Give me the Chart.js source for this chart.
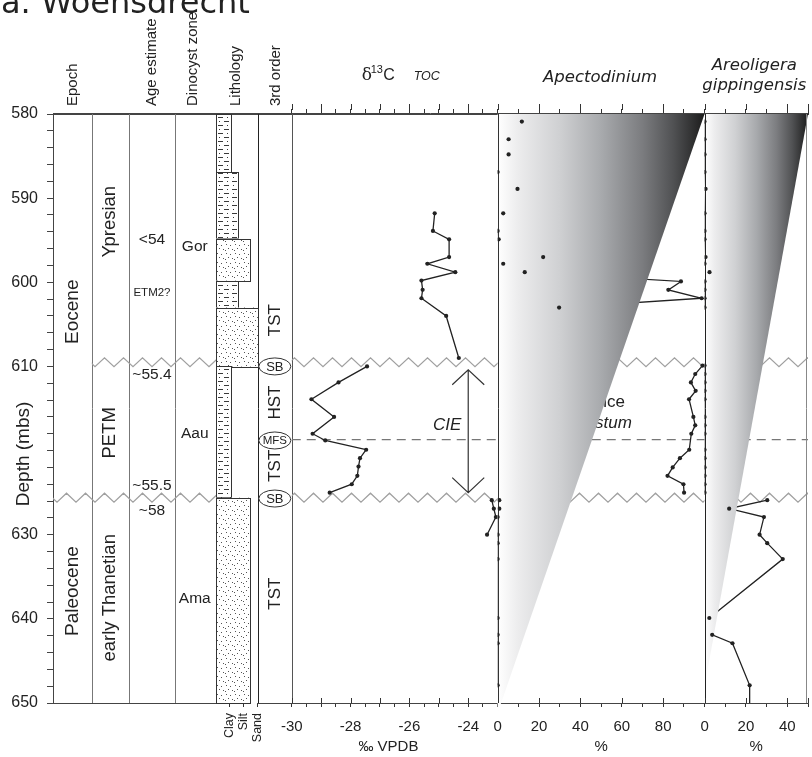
<!DOCTYPE html>
<html>
<head>
<meta charset="utf-8">
<title>Woensdrecht</title>
<script src="https://cdn.jsdelivr.net/npm/chart.js@4.4.1/dist/chart.umd.min.js"></script>
<style>
  html, body { margin: 0; padding: 0; background: #fff; }
  canvas { display: block; }
</style>
</head>
<body>
<canvas id="log" width="812" height="757"></canvas>
<script>
var SANS = '"Liberation Sans", Arial, sans-serif';
var WIDE = '"DejaVu Sans", Verdana, sans-serif';
var INK = '#222';

/* axis ticks */
var depthTicks = [580, 582, 584, 586, 588, 590, 592, 594, 596, 598, 600, 602, 604, 606, 608, 610,
    612, 614, 616, 618, 620, 622, 624, 626, 628, 630, 632, 634, 636, 638, 640, 642, 644, 646, 648, 650];
var depthLabels = [580, 590, 600, 610, 630, 640, 650];
var d13cTicks = [-30, -29.5, -29, -28.5, -28, -27.5, -27, -26.5, -26, -25.5, -25, -24.5, -24, -23.5, -23];
var d13cMajor = [-30, -29, -28, -27, -26, -25, -24, -23];
var d13cLabels = [-30, -28, -26, -24];
var apectTicks = [0, 10, 20, 30, 40, 50, 60, 70, 80, 90, 100];
var apectMajor = [0, 20, 40, 60, 80, 100];
var apectLabels = [0, 20, 40, 60, 80];
var areoTicks = [0, 10, 20, 30, 40, 50];
var areoMajor = [0, 20, 40, 50];
var areoLabels = [0, 20, 40];
var grainTicks = [0.95, 1.95, 3];
var grainNames = ['Clay', 'Silt', 'Sand'];

/* d13C TOC (permil VPDB), split at the two unconformities */
var d13cDepthA = [591.8, 593.9, 594.9, 597.0, 597.8, 598.8, 599.8, 600.9, 601.9, 604.0, 609.0];
var d13cValueA = [-25.14, -25.20, -24.65, -24.65, -25.39, -24.44, -25.59, -25.55, -25.59, -24.75, -24.32];
var d13cDepthB = [610.0, 611.9, 613.9, 616.0, 618.0, 618.8, 619.9, 620.9, 621.9, 623.0, 624.0, 625.0];
var d13cValueB = [-27.44, -28.41, -29.33, -28.56, -29.29, -28.86, -27.47, -27.68, -27.73, -27.77, -27.96, -28.71];
var d13cDepthC = [625.9, 626.9, 627.9, 630.0];
var d13cValueC = [-23.20, -23.13, -23.06, -23.36];

/* palynology samples (%) */
var sampleDepthA = [580.9, 583.0, 584.8, 586.9, 588.9, 591.8, 593.9, 594.9, 597.0, 597.8, 598.8, 599.9, 600.9, 601.9, 603.0];
var sampleDepthB = [609.9, 610.9, 611.9, 612.9, 613.9, 616.0, 617.0, 618.0, 619.9, 620.9, 622.0, 623.0, 624.0, 625.0];
var sampleDepthC = [625.9, 626.9, 627.9, 630.0, 631.0, 632.9, 639.9, 641.9, 642.9, 647.9, 651.0];
var apectA = [11.7, 5.3, 5.3, 0, 9.6, 2.7, 0, 0.5, 22.0, 2.7, 13.1, 88.6, 82.5, 98.6, 29.7];
var apectB = [99.0, 95.5, 93.4, 95.7, 92.5, 94.6, 95.5, 93.6, 92.6, 88.1, 84.6, 82.1, 89.8, 90.1];
var apectC = [0.8, 0.8, 0, 0, 0, 0, 0, 0, 0, 0, null];
var areoA = [0, 0, 0, 0, 0.5, 0, 0, 0, 0.5, 0, 2.4, 0, 0, 0, 0];
var areoB = [0, 0, 0, 0, 0, 0, 0, 0, 0, 0, 0, 0, 0, 0];
var areoC = [30.3, 11.9, 28.7, 26.6, 30.3, 37.8, 2.3, 3.7, 13.5, 21.8, 21.8];

/* lithology units */
var lithTop = [580, 586.9, 594.8, 599.8, 603.0, 610.0, 625.6];
var lithBase = [586.9, 594.8, 599.8, 603.0, 610.0, 625.6, 650];
var lithGrain = [1.07, 1.6, 2.43, 1.55, 3.0, 1.1, 2.43];
var lithKind = ['mud', 'mud', 'sand', 'mud', 'sand', 'mud', 'sand'];

/* column annotations */
var epochNames = ['Eocene', 'Paleocene'];
var epochMid = [603.5, 636.7];
var stageNames = ['Ypresian', 'PETM', 'early Thanetian'];
var stageMid = [592.8, 617.9, 637.5];
var ageNames = ['<54', 'ETM2?', '~55.4', '~55.5', '~58'];
var ageMid = [595.0, 601.2, 611.0, 624.2, 627.1];
var zoneNames = ['Gor', 'Aau', 'Ama'];
var zoneMid = [595.8, 618.0, 637.6];
var seqNames = ['TST', 'SB', 'HST', 'MFS', 'TST', 'SB', 'TST'];
var seqMid = [604.5, 610.0, 614.3, 618.8, 621.8, 625.7, 637.0];

var unconformityDepth = [609.5, 625.6];
var mfsDepth = 618.7;
var cieValue = -24.0, cieTop = 610.4, cieBase = 625.0;
var apectWedge = { full: 100, top: 580, tip: 651.2 };
var areoWedge = { full: 50, top: 580, tip: 648 };
var shadeStops = [[0, '#ffffff'], [0.1, '#ececed'], [0.3, '#cfd0d2'], [0.5, '#a8aaad'],
    [0.7, '#7b7c7f'], [0.85, '#505153'], [1, '#1c1c1c']];

function pts(vals, depths) {
    var out = [];
    for (var i = 0; i < depths.length; i++) {
        if (vals[i] !== null) out.push({ x: vals[i], y: depths[i] });
    }
    return out;
}

function axisBase(pos, weight) {
    return {
        type: 'linear', axis: 'x', position: pos, stack: pos, stackWeight: weight,
        min: 0, max: 1,
        ticks: { display: false },
        grid: { display: false },
        border: { color: '#444', width: 1 },
        afterFit: function (s) {
            s.height = pos === 'top' ? 114 : 54;
            s.paddingLeft = 0; s.paddingRight = 0;
        }
    };
}

function panelAxis(pos, weight, min, max, ticks, labels, title) {
    var o = axisBase(pos, weight);
    o.min = min; o.max = max;
    o.afterBuildTicks = function (s) {
        s.ticks = ticks.map(function (v) { return { value: v }; });
    };
    o.grid = { display: true, drawOnChartArea: false, drawTicks: true,
        tickLength: pos === 'top' ? 5 : 4, color: '#333' };
    if (pos === 'bottom') {
        o.ticks = { display: true, autoSkip: false, maxRotation: 0, minRotation: 0, padding: 11,
            color: INK, font: { family: SANS, size: 15 },
            callback: function (v) { return labels.indexOf(v) >= 0 ? String(v) : ''; } };
        if (title) {
            o.title = { display: true, text: title, color: INK,
                font: { family: SANS, size: 15 }, padding: { top: 0, bottom: 1 } };
        }
    } else {
        o.ticks = { display: false };
    }
    return o;
}

var lithAxis = panelAxis('bottom', 42, 0, 3, grainTicks, grainTicks, null);
lithAxis.ticks = { display: true, autoSkip: false, maxRotation: 90, minRotation: 90, padding: 6,
    color: INK, font: { family: SANS, size: 12.5 },
    callback: function (v) { var i = grainTicks.indexOf(v); return i >= 0 ? grainNames[i] : ''; } };
lithAxis.border = { display: false };

// top axes are laid out right-to-left by Chart.js, so they are listed in reverse
var scales = {
    y: {
        type: 'linear', position: 'left', reverse: true, min: 580, max: 650,
        afterBuildTicks: function (s) {
            s.ticks = depthTicks.map(function (v) { return { value: v }; });
        },
        afterFit: function (s) { s.width = 53; s.paddingTop = 0; s.paddingBottom = 0; },
        ticks: { autoSkip: false, padding: 9, color: INK, font: { family: SANS, size: 16 },
            callback: function (v) { return depthLabels.indexOf(v) >= 0 ? String(v) : ''; } },
        grid: { drawOnChartArea: false, tickLength: 6, color: '#444' },
        border: { color: '#444' }
    },
    tG: panelAxis('top', 104, 0, 50, areoTicks, [], null),
    tA: panelAxis('top', 208, 0, 100, apectTicks, [], null),
    tC: panelAxis('top', 207, -30, -23, d13cTicks, [], null),
    tCols: axisBase('top', 240),
    cEpoch: axisBase('bottom', 39),
    cStage: axisBase('bottom', 37),
    cAge: axisBase('bottom', 47),
    cZone: axisBase('bottom', 41),
    xL: lithAxis,
    cSeq: axisBase('bottom', 34),
    xC: panelAxis('bottom', 207, -30, -23, d13cTicks, d13cLabels, '\u2030 VPDB\u00a0\u00a0\u00a0'),
    xA: panelAxis('bottom', 208, 0, 100, apectTicks, apectLabels, '%'),
    xG: panelAxis('bottom', 104, 0, 50, areoTicks, areoLabels, '%')
};

function lineSet(data, axis, order) {
    return { data: data, xAxisID: axis, yAxisID: 'y', order: order,
        borderColor: INK, borderWidth: 1.3, pointRadius: 0, clip: 0 };
}
function pointSet(data, axis) {
    return { data: data, xAxisID: axis, yAxisID: 'y', order: 0, onTop: true, showLine: false,
        pointRadius: 2.1, pointBackgroundColor: INK, pointBorderWidth: 0, clip: 0 };
}
function d13cSet(data) {
    return { data: data, xAxisID: 'xC', yAxisID: 'y', order: 1,
        borderColor: INK, borderWidth: 1.3, pointRadius: 2.1,
        pointBackgroundColor: INK, pointBorderWidth: 0, clip: 0 };
}

var datasets = [
    d13cSet(pts(d13cValueA, d13cDepthA)),
    d13cSet(pts(d13cValueB, d13cDepthB)),
    d13cSet(pts(d13cValueC, d13cDepthC)),
    lineSet(pts(apectA, sampleDepthA), 'xA', 2),
    lineSet(pts(apectB, sampleDepthB), 'xA', 2),
    lineSet(pts(apectC, sampleDepthC), 'xA', 2),
    lineSet(pts(areoA, sampleDepthA), 'xG', 2),
    lineSet(pts(areoB, sampleDepthB), 'xG', 2),
    lineSet(pts(areoC, sampleDepthC), 'xG', 2),
    pointSet(pts(apectA, sampleDepthA).concat(pts(apectB, sampleDepthB), pts(apectC, sampleDepthC)), 'xA'),
    pointSet(pts(areoA, sampleDepthA).concat(pts(areoB, sampleDepthB), pts(areoC, sampleDepthC)), 'xG')
];

var wedgeDone = false;
var patterns = null;

function makePatterns(ctx) {
    // claystone/siltstone: short dashes from both edges with dots between
    var mud = document.createElement('canvas');
    mud.width = 14; mud.height = 8;
    var g = mud.getContext('2d');
    g.fillStyle = '#fff'; g.fillRect(0, 0, 14, 8);
    g.fillStyle = '#3a3a3a';
    g.fillRect(0, 1, 5, 1);
    g.fillRect(8, 5, 5, 1);
    g.fillRect(9, 1, 1, 1);
    g.fillRect(3, 5, 1, 1);
    // sandstone: fine scattered dots
    var sand = document.createElement('canvas');
    sand.width = 9; sand.height = 9;
    g = sand.getContext('2d');
    g.fillStyle = '#fff'; g.fillRect(0, 0, 9, 9);
    g.fillStyle = '#555';
    [[1, 1], [5, 2], [3, 5], [7, 6], [0, 7]].forEach(function (p) { g.fillRect(p[0], p[1], 1, 1); });
    return { mud: ctx.createPattern(mud, 'repeat'), sand: ctx.createPattern(sand, 'repeat') };
}

function zigzag(ctx, x0, x1, yc) {
    var h = 9.5, amp = 4.5;
    ctx.save();
    ctx.beginPath(); ctx.rect(x0, yc - 8, x1 - x0, 16); ctx.clip();
    ctx.beginPath();
    var k0 = Math.floor(x0 / h) - 1, k1 = Math.ceil(x1 / h) + 1;
    for (var k = k0; k <= k1; k++) {
        var py = yc + (Math.abs(k) % 2 === 0 ? amp : -amp);
        if (k === k0) ctx.moveTo(k * h, py); else ctx.lineTo(k * h, py);
    }
    ctx.stroke();
    ctx.restore();
}

function vtext(ctx, str, x, y, align) {
    ctx.save();
    ctx.translate(x, y); ctx.rotate(-Math.PI / 2);
    ctx.textAlign = align || 'center'; ctx.textBaseline = 'middle';
    ctx.fillText(str, 0, 0);
    ctx.restore();
}

function vline(ctx, x, top, bottom, color) {
    x = Math.round(x) + 0.5;
    ctx.strokeStyle = color; ctx.lineWidth = 1;
    ctx.beginPath(); ctx.moveTo(x, top); ctx.lineTo(x, bottom); ctx.stroke();
}

function mid(sc) { return (sc.left + sc.right) / 2; }

function drawWedge(chart, sx, w) {
    var ctx = chart.ctx, y = chart.scales.y;
    var x0 = sx.getPixelForValue(0), x1 = sx.getPixelForValue(w.full);
    var g = ctx.createLinearGradient(x0, 0, x1, 0);
    shadeStops.forEach(function (st) { g.addColorStop(st[0], st[1]); });
    ctx.save();
    ctx.fillStyle = g;
    ctx.beginPath();
    ctx.moveTo(x0, y.getPixelForValue(w.top));
    ctx.lineTo(x1, y.getPixelForValue(w.top));
    ctx.lineTo(x0, y.getPixelForValue(w.tip));
    ctx.closePath();
    ctx.fill();
    ctx.restore();
}

var logPlugin = {
    id: 'woensdrecht',
    beforeDatasetsDraw: function (chart) {
        wedgeDone = false;
        var ctx = chart.ctx, s = chart.scales, a = chart.chartArea, y = s.y, i;
        if (!patterns) patterns = makePatterns(ctx);
        ctx.save();
        vline(ctx, s.cStage.left, a.top, a.bottom, '#777');
        vline(ctx, s.cAge.left, a.top, a.bottom, '#777');
        vline(ctx, s.cZone.left, a.top, a.bottom, '#777');
        vline(ctx, s.cSeq.left, a.top, a.bottom, '#222');
        vline(ctx, s.xC.left, a.top, a.bottom, '#555');

        ctx.strokeStyle = '#a0a0a0'; ctx.lineWidth = 1.2;
        var u0 = y.getPixelForValue(unconformityDepth[0]);
        var u1 = y.getPixelForValue(unconformityDepth[1]);
        zigzag(ctx, s.cStage.left, s.xL.left, u0);
        zigzag(ctx, s.xC.left, a.right, u0);
        zigzag(ctx, s.cEpoch.left, s.xL.left, u1);
        zigzag(ctx, s.xC.left, a.right, u1);

        ctx.setLineDash([9, 6]); ctx.strokeStyle = '#777'; ctx.lineWidth = 1.2;
        var ym = y.getPixelForValue(mfsDepth);
        ctx.beginPath(); ctx.moveTo(s.xC.left, ym); ctx.lineTo(a.right, ym); ctx.stroke();
        ctx.setLineDash([]);

        // lithology column
        var lx0 = s.xL.getPixelForValue(0);
        for (i = 0; i < lithTop.length; i++) {
            var yt = y.getPixelForValue(lithTop[i]), yb = y.getPixelForValue(lithBase[i]);
            var xr = s.xL.getPixelForValue(lithGrain[i]);
            ctx.fillStyle = patterns[lithKind[i]];
            ctx.fillRect(lx0, yt, xr - lx0, yb - yt);
            ctx.strokeStyle = '#333'; ctx.lineWidth = 1;
            ctx.strokeRect(Math.round(lx0) + 0.5, Math.round(yt) + 0.5, Math.round(xr - lx0), Math.round(yb - yt));
        }

        ctx.fillStyle = INK;
        ctx.font = '19px ' + SANS;
        for (i = 0; i < epochNames.length; i++) vtext(ctx, epochNames[i], mid(s.cEpoch), y.getPixelForValue(epochMid[i]));
        ctx.font = '18.5px ' + SANS;
        for (i = 0; i < stageNames.length; i++) vtext(ctx, stageNames[i], mid(s.cStage), y.getPixelForValue(stageMid[i]));
        ctx.textAlign = 'center'; ctx.textBaseline = 'middle';
        for (i = 0; i < ageNames.length; i++) {
            ctx.font = (ageNames[i] === 'ETM2?' ? '11.5px ' : '15.5px ') + SANS;
            ctx.fillText(ageNames[i], mid(s.cAge), y.getPixelForValue(ageMid[i]));
        }
        ctx.font = '15.5px ' + SANS;
        for (i = 0; i < zoneNames.length; i++) ctx.fillText(zoneNames[i], mid(s.cZone) - 1, y.getPixelForValue(zoneMid[i]));

        // sequence stratigraphy
        var sx = mid(s.cSeq);
        for (i = 0; i < seqNames.length; i++) {
            var sy = y.getPixelForValue(seqMid[i]);
            if (seqNames[i] === 'SB' || seqNames[i] === 'MFS') {
                ctx.beginPath(); ctx.ellipse(sx, sy, 16, 8.5, 0, 0, Math.PI * 2);
                ctx.fillStyle = '#fff'; ctx.fill();
                ctx.strokeStyle = '#333'; ctx.lineWidth = 1; ctx.stroke();
                ctx.fillStyle = INK;
                ctx.font = (seqNames[i] === 'SB' ? '13px ' : '11.5px ') + SANS;
                ctx.textAlign = 'center'; ctx.textBaseline = 'middle';
                ctx.fillText(seqNames[i], sx, sy + 0.5);
            } else {
                ctx.fillStyle = INK;
                ctx.font = '17px ' + SANS;
                vtext(ctx, seqNames[i], sx, sy);
            }
        }

        // note partly hidden under the Apectodinium wedge
        ctx.fillStyle = INK; ctx.textAlign = 'right'; ctx.textBaseline = 'middle';
        ctx.font = '17px ' + SANS;
        ctx.fillText('Abundance', s.xA.getPixelForValue(61.5), y.getPixelForValue(614.3));
        ctx.font = 'italic 17px ' + SANS;
        ctx.fillText('A. augustum', s.xA.getPixelForValue(64.9), y.getPixelForValue(616.8));
        ctx.restore();
    },
    beforeDatasetDraw: function (chart, args) {
        if (wedgeDone || !chart.data.datasets[args.index].onTop) return;
        wedgeDone = true;
        var ctx = chart.ctx, s = chart.scales, a = chart.chartArea;
        drawWedge(chart, s.xA, apectWedge);
        drawWedge(chart, s.xG, areoWedge);
        ctx.save();
        vline(ctx, s.xA.left, a.top, a.bottom, '#333');
        vline(ctx, s.xG.left, a.top, a.bottom, '#222');
        vline(ctx, a.right - 2, a.top, a.bottom, '#888');
        ctx.restore();
    },
    afterDatasetsDraw: function (chart) {
        var ctx = chart.ctx, s = chart.scales, y = s.y;
        var xc = s.xC.getPixelForValue(cieValue);
        var y1 = y.getPixelForValue(cieTop), y2 = y.getPixelForValue(cieBase);
        ctx.save();
        ctx.strokeStyle = '#333'; ctx.lineWidth = 1.2;
        ctx.beginPath();
        ctx.moveTo(xc, y1); ctx.lineTo(xc, y2);
        ctx.moveTo(xc - 16, y1 + 15); ctx.lineTo(xc, y1); ctx.lineTo(xc + 16, y1 + 15);
        ctx.moveTo(xc - 16, y2 - 15); ctx.lineTo(xc, y2); ctx.lineTo(xc + 16, y2 - 15);
        ctx.stroke();
        ctx.fillStyle = INK; ctx.font = 'italic 17px ' + SANS;
        ctx.textAlign = 'center'; ctx.textBaseline = 'middle';
        ctx.fillText('CIE', xc - 21, (y1 + y2) / 2 - 6);
        ctx.restore();
    },
    afterDraw: function (chart) {
        var ctx = chart.ctx, s = chart.scales, a = chart.chartArea, y = s.y;
        ctx.save();
        // top frame line over the wedges
        ctx.strokeStyle = '#444'; ctx.lineWidth = 1;
        ctx.beginPath(); ctx.moveTo(a.left, Math.round(a.top) - 0.5); ctx.lineTo(a.right, Math.round(a.top) - 0.5); ctx.stroke();

        // longer ticks at major values
        ctx.strokeStyle = '#333';
        [[s.tC, d13cMajor], [s.tA, apectMajor], [s.tG, areoMajor]].forEach(function (p) {
            p[1].forEach(function (v) {
                var x = Math.round(p[0].getPixelForValue(v)) + 0.5;
                ctx.beginPath(); ctx.moveTo(x, a.top - 4); ctx.lineTo(x, a.top - 10); ctx.stroke();
            });
        });
        [[s.xC, d13cMajor], [s.xA, apectMajor], [s.xG, areoMajor]].forEach(function (p) {
            p[1].forEach(function (v) {
                var x = Math.round(p[0].getPixelForValue(v)) + 0.5;
                ctx.beginPath(); ctx.moveTo(x, a.bottom - 5); ctx.lineTo(x, a.bottom); ctx.stroke();
            });
        });

        ctx.fillStyle = INK;
        ctx.font = '32px ' + WIDE;
        ctx.textAlign = 'left'; ctx.textBaseline = 'alphabetic';
        ctx.fillText('a. Woensdrecht', 1, 13);

        ctx.font = '15px ' + SANS;
        vtext(ctx, 'Epoch', mid(s.cEpoch), 106, 'left');
        vtext(ctx, 'Age estimate', mid(s.cAge), 106, 'left');
        vtext(ctx, 'Dinocyst zone', mid(s.cZone) - 3, 106, 'left');
        vtext(ctx, 'Lithology', mid(s.xL) - 1, 106, 'left');
        vtext(ctx, '3rd order', mid(s.cSeq) + 1, 106, 'left');

        ctx.font = '19px ' + SANS;
        vtext(ctx, 'Depth (mbs)', 24, y.getPixelForValue(620.4));

        // panel headers
        var hx = mid(s.tC) - 33;
        ctx.textAlign = 'left'; ctx.textBaseline = 'alphabetic';
        ctx.font = '17px "DejaVu Serif", serif';
        ctx.fillText('\u03b4', hx, 80);
        ctx.font = '11px ' + SANS;
        ctx.fillText('13', hx + 9, 73);
        ctx.font = '16px ' + SANS;
        ctx.fillText('C', hx + 21.5, 80);
        ctx.font = 'italic 12.5px ' + SANS;
        ctx.fillText('TOC', hx + 52, 80);

        ctx.textAlign = 'center';
        ctx.font = 'oblique 16.5px ' + WIDE;
        ctx.fillText('Apectodinium', mid(s.tA) - 1, 82);
        ctx.fillText('Areoligera', mid(s.tG) - 2, 70);
        ctx.fillText('gippingensis', mid(s.tG) - 2, 90);
        ctx.restore();
    }
};

var chart = new Chart(document.getElementById('log'), {
    type: 'line',
    data: { datasets: datasets },
    options: {
        indexAxis: 'y',
        responsive: false,
        animation: false,
        devicePixelRatio: 1,
        events: [],
        spanGaps: false,
        layout: { padding: 0 },
        plugins: { legend: { display: false }, tooltip: { enabled: false } },
        scales: scales
    },
    plugins: [logPlugin]
});
</script>
</body>
</html>
